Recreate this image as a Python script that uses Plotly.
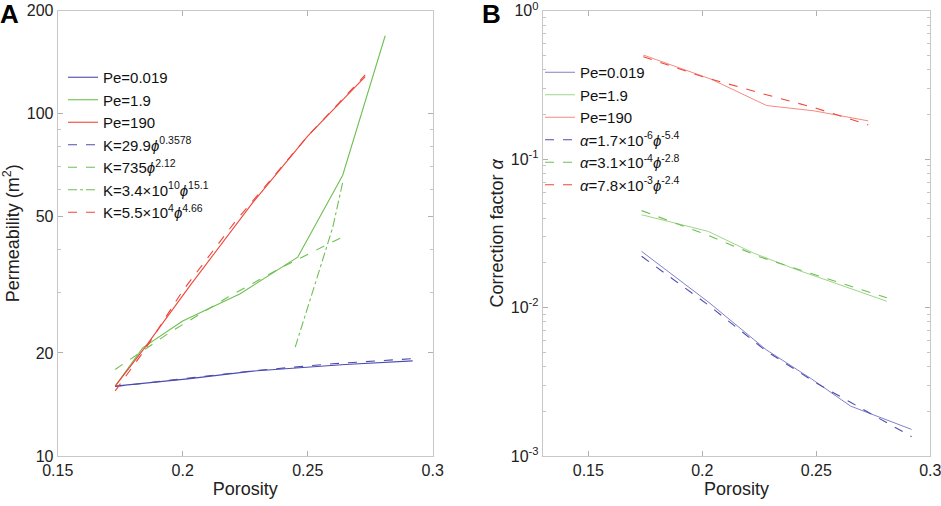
import plotly.graph_objects as go

# Panel A: permeability vs porosity
blue_x = [0.173, 0.202, 0.228, 0.245, 0.265, 0.292]
blue_k = [16.0, 16.8, 17.7, 18.1, 18.5, 18.97]
green_x = [0.173, 0.184, 0.200, 0.223, 0.246, 0.264, 0.281]
green_k = [16.0, 20.7, 24.8, 29.8, 38.1, 66.1, 169.0]
red_x = [0.173, 0.185, 0.203, 0.228, 0.250, 0.273]
red_k = [16.0, 20.8, 31.5, 55.0, 86.0, 128.3]

fit_blue_x = [0.173, 0.200, 0.230, 0.260, 0.292]
fit_blue_k = [15.96, 16.8, 17.8, 18.6, 19.25]
fit_green_x = [0.173, 0.195, 0.218, 0.240, 0.263]
fit_green_k = [17.9, 23.0, 29.1, 35.7, 43.3]
fit_green2_x = [0.245, 0.250, 0.255, 0.260, 0.264]
fit_green2_k = [20.8, 27.0, 35.5, 46.5, 63.0]
fit_red_x = [0.173, 0.185, 0.200, 0.221, 0.250, 0.273]
fit_red_k = [15.5, 20.5, 30.4, 48.4, 86.0, 129.8]

# Panel B: correction factor vs porosity
b_blue_x = [0.1734, 0.203, 0.228, 0.248, 0.265, 0.2918]
b_blue_a = [0.0239, 0.0108, 0.0052, 0.0033, 0.00217, 0.00151]
b_green_x = [0.1734, 0.2026, 0.2224, 0.2414, 0.2809]
b_green_a = [0.0422, 0.0326, 0.0233, 0.018, 0.01103]
b_red_x = [0.1741, 0.204, 0.2282, 0.249, 0.2728]
b_red_a = [0.503, 0.345, 0.2297, 0.2115, 0.181]

fb_blue_x = [0.1734, 0.203, 0.228, 0.250, 0.265, 0.2918]
fb_blue_a = [0.02215, 0.0103, 0.0051, 0.0031, 0.0023, 0.00135]
fb_green_x = [0.1734, 0.203, 0.225, 0.250, 0.2809]
fb_green_a = [0.045, 0.0305, 0.022, 0.0165, 0.01163]
fb_red_x = [0.1741, 0.200, 0.225, 0.250, 0.2728]
fb_red_a = [0.49, 0.36, 0.28, 0.22, 0.170]

# tick positions
x_ticks = [0.15, 0.2, 0.25, 0.3]
x_labels = ["0.15", "0.2", "0.25", "0.3"]
ya_ticks = [10, 20, 50, 100, 200]
ya_minor = [30, 40, 60, 70, 80, 90]
yb_ticks = [0.001, 0.01, 0.1, 1]
yb_labels = ["10<sup>-3</sup>", "10<sup>-2</sup>", "10<sup>-1</sup>", "10<sup>0</sup>"]
yb_minor = [m * d for d in [0.001, 0.01, 0.1] for m in range(2, 10)]

BLUE = "#4c4cb0"
GREEN = "#6fbf52"
RED = "#f0463a"
FONT = "Liberation Sans"

fig = go.Figure()

def add(x, y, name, color, dash, xa, ya, legend, width=1.1):
    fig.add_trace(go.Scatter(
        x=x, y=y, name=name, mode="lines",
        line=dict(color=color, width=width, dash=dash),
        xaxis=xa, yaxis=ya, legend=legend,
    ))

add(blue_x, blue_k, "Pe=0.019", BLUE, "solid", "x", "y", "legend")
add(green_x, green_k, "Pe=1.9", GREEN, "solid", "x", "y", "legend")
add(red_x, red_k, "Pe=190", RED, "solid", "x", "y", "legend")
add(fit_blue_x, fit_blue_k, "K=29.9<i>ϕ</i><sup>0.3578</sup>", BLUE, "dash", "x", "y", "legend")
add(fit_green_x, fit_green_k, "K=735<i>ϕ</i><sup>2.12</sup>", GREEN, "dash", "x", "y", "legend")
add(fit_green2_x, fit_green2_k, "K=3.4×10<sup>10</sup><i>ϕ</i><sup>15.1</sup>", GREEN, "dashdot", "x", "y", "legend")
add(fit_red_x, fit_red_k, "K=5.5×10<sup>4</sup><i>ϕ</i><sup>4.66</sup>", RED, "dash", "x", "y", "legend")

add(b_blue_x, b_blue_a, "Pe=0.019", "#8080c8", "solid", "x2", "y2", "legend2", 1)
add(b_green_x, b_green_a, "Pe=1.9", "#9fd58a", "solid", "x2", "y2", "legend2", 1)
add(b_red_x, b_red_a, "Pe=190", "#f48a80", "solid", "x2", "y2", "legend2", 1)
add(fb_blue_x, fb_blue_a, "<i>α</i>=1.7×10<sup>-6</sup><i>ϕ</i><sup>-5.4</sup>", BLUE, "dash", "x2", "y2", "legend2")
add(fb_green_x, fb_green_a, "<i>α</i>=3.1×10<sup>-4</sup><i>ϕ</i><sup>-2.8</sup>", GREEN, "dash", "x2", "y2", "legend2")
add(fb_red_x, fb_red_a, "<i>α</i>=7.8×10<sup>-3</sup><i>ϕ</i><sup>-2.4</sup>", RED, "dash", "x2", "y2", "legend2")

W, H = 941, 506

def px(v):
    return v / W

def py(v):
    return 1 - v / H

ydom = [py(456), py(10.7)]

axis_style = dict(
    showline=True, linecolor="#c8c8c8", linewidth=1, mirror="ticks",
    ticks="inside", ticklen=5, tickcolor="#b0b0b0",
    showgrid=False, zeroline=False, automargin=False,
    ticklabeloverflow="allow",
    tickfont=dict(family=FONT, size=16, color="#222"),
)
minor_style = dict(ticks="inside", ticklen=3, tickcolor="#c4c4c4", showgrid=False)
title_font = dict(family=FONT, size=18, color="#222")
legend_font = dict(family=FONT, size=15, color="#111")

fig.update_layout(
    width=W, height=H,
    margin=dict(l=0, r=0, t=0, b=0),
    paper_bgcolor="white", plot_bgcolor="white",
    font=dict(family=FONT, color="#222"),
    showlegend=True,
    xaxis=dict(domain=[px(57.7), px(432.7)], range=[0.15, 0.3],
               tickvals=x_ticks, ticktext=x_labels,
               title=dict(text="Porosity", font=title_font, standoff=4), **axis_style),
    yaxis=dict(domain=ydom, type="log", range=[1, 2.30103],
               tickvals=ya_ticks, ticktext=[str(v) for v in ya_ticks],
               minor=dict(tickvals=ya_minor, **minor_style),
               title=dict(text="Permeability (m<sup>2</sup>)", font=title_font, standoff=4),
               **axis_style),
    xaxis2=dict(domain=[px(542.7), px(930.3)], range=[0.13, 0.3], anchor="y2",
                tickvals=x_ticks, ticktext=x_labels,
                title=dict(text="Porosity", font=title_font, standoff=4), **axis_style),
    yaxis2=dict(domain=ydom, type="log", range=[-3, 0], anchor="x2",
                tickvals=yb_ticks, ticktext=yb_labels,
                minor=dict(tickvals=yb_minor, **minor_style),
                title=dict(text="Correction factor <i>α</i>", font=title_font, standoff=2),
                **axis_style),
    legend=dict(x=px(63), y=py(61), xanchor="left", yanchor="top",
                bgcolor="rgba(0,0,0,0)", font=legend_font,
                tracegroupgap=0, itemwidth=30),
    legend2=dict(x=px(540), y=py(56), xanchor="left", yanchor="top",
                 bgcolor="rgba(0,0,0,0)", font=legend_font,
                 tracegroupgap=0, itemwidth=30),
    annotations=[
        dict(text="<b>A</b>", x=0, y=1, xref="paper", yref="paper", xanchor="left", yanchor="top",
             showarrow=False, font=dict(family=FONT, size=26, color="black"), xshift=-2, yshift=3),
        dict(text="<b>B</b>", x=px(482), y=1, xref="paper", yref="paper", xanchor="left", yanchor="top",
             showarrow=False, font=dict(family=FONT, size=26, color="black"), xshift=-2, yshift=3),
    ],
)

# drop the page's default body margin so the figure sits in the corner
fig.write_html("out.html", config={"displayModeBar": False},
               post_script="document.body.style.margin='0';")
